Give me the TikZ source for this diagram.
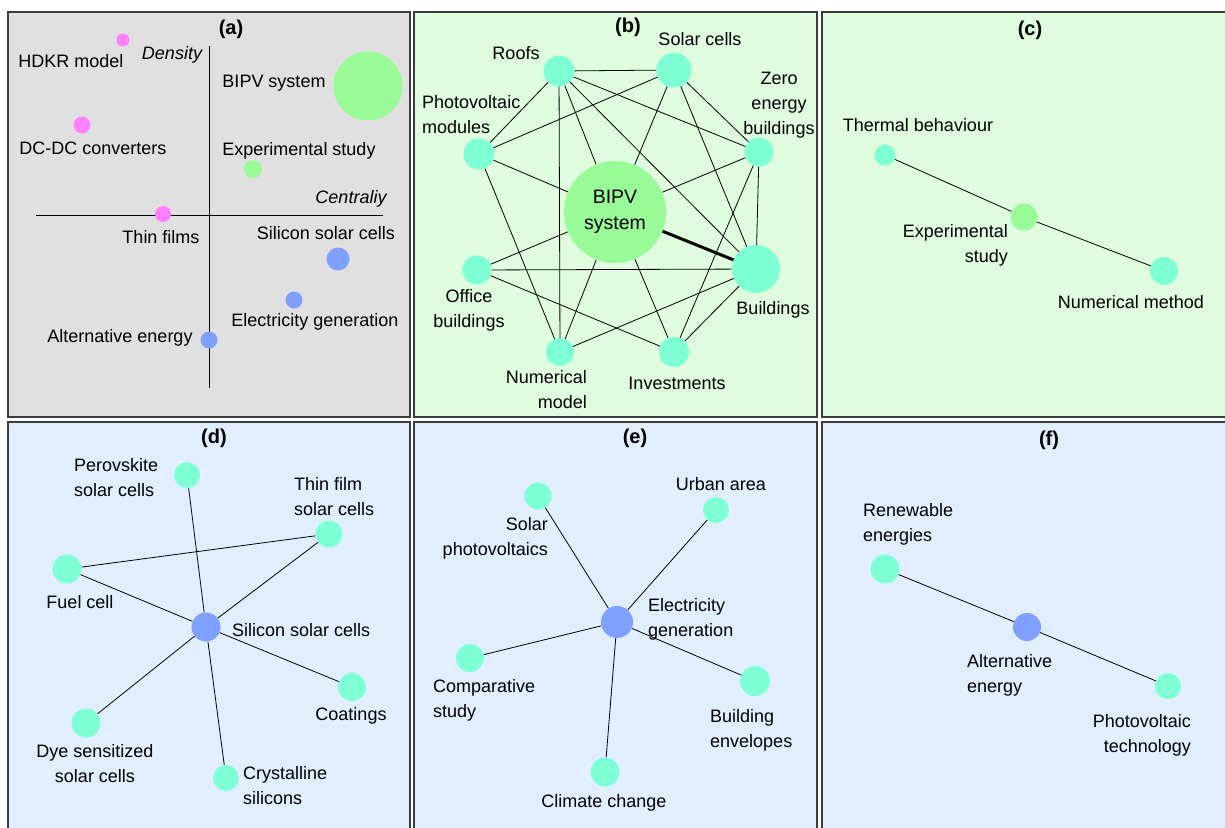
\documentclass[tikz,border=0pt]{standalone}
\usepackage{fontspec}
\setmainfont{Liberation Sans}
\usetikzlibrary{backgrounds}
\pgfdeclarelayer{edgelayer}
\pgfsetlayers{background,edgelayer,main}
\definecolor{bggray}{RGB}{224,224,224}
\definecolor{bggreen}{RGB}{223,252,223}
\definecolor{bgblue}{RGB}{224,238,255}
\definecolor{kwpink}{RGB}{255,128,255}
\definecolor{kwgreen}{RGB}{152,251,152}
\definecolor{kwaqua}{RGB}{127,255,212}
\definecolor{kwblue}{RGB}{128,160,255}
\definecolor{framecol}{RGB}{60,60,60}
\tikzset{
  panel/.style={draw=framecol, line width=1.3pt},
  kw/.style={circle, inner sep=0pt, minimum size=#1},
  pinkkw/.style={kw=#1, fill=kwpink},
  greenkw/.style={kw=#1, fill=kwgreen},
  aquakw/.style={kw=#1, fill=kwaqua},
  bluekw/.style={kw=#1, fill=kwblue},
  lbl/.style={inner sep=0pt, font=\fontsize{18}{25}\selectfont},
  ttl/.style={inner sep=0pt, font=\fontsize{20}{25}\selectfont\bfseries},
  lnk/.style={draw=black, line width=0.8pt},
  axis/.style={draw=black, line width=1pt},
}
\begin{document}
\begin{tikzpicture}[x=1pt,y=-1pt]
\useasboundingbox (0,0) rectangle (1225,827);
\begin{pgfonlayer}{background}
\fill[white] (0,0) rectangle (1225,827);
\draw[panel, fill=bggray]  (8,12) rectangle (410,417);
\draw[panel, fill=bggreen] (414,12) rectangle (817,417);
\draw[panel, fill=bggreen] (822,12) rectangle (1228,417);
\draw[panel, fill=bgblue]  (8,422) rectangle (410,830);
\draw[panel, fill=bgblue]  (414,422) rectangle (817,830);
\draw[panel, fill=bgblue]  (822,422) rectangle (1228,830);
\end{pgfonlayer}

% ---------------- (a)
\node[ttl] (ta) at (231,29) {(a)};
\coordinate (vTop) at (209,46);
\coordinate (vBot) at (209,388);
\coordinate (hL) at (36,215);
\coordinate (hR) at (383,215);
\node[lbl, font=\fontsize{18}{25}\selectfont\itshape] (tDens) at (172,55) {Density};
\node[lbl, font=\fontsize{18}{25}\selectfont\itshape] (tCent) at (351,199) {Centraliy};
\node[pinkkw=13] (aHDKR) at (123,40) {};
\node[pinkkw=17] (aDCDC) at (82,125) {};
\node[pinkkw=16] (aThin) at (163,214) {};
\node[greenkw=69] (aBIPV) at (368,86) {};
\node[greenkw=18] (aExp) at (253,169) {};
\node[bluekw=23] (aSil) at (338,259) {};
\node[bluekw=17] (aElec) at (294,300) {};
\node[bluekw=17] (aAlt) at (209,340) {};
\node[lbl] (taHDKR) at (71,61) {HDKR model};
\node[lbl] (taDCDC) at (93,148) {DC-DC converters};
\node[lbl] (taThin) at (161,237) {Thin films};
\node[lbl] (taBIPV) at (274,83) {BIPV system};
\node[lbl] (taExp) at (299,151) {Experimental study};
\node[lbl] (taSil) at (326,233) {Silicon solar cells};
\node[lbl] (taElec) at (315,322) {Electricity generation};
\node[lbl] (taAlt) at (120,338) {Alternative energy};
\begin{pgfonlayer}{edgelayer}
\draw[axis] (vTop) -- (vBot);
\draw[axis] (hL) -- (hR);
\end{pgfonlayer}

% ---------------- (b)
\node[ttl] (tb) at (628,27) {(b)};
\node[greenkw=102, lbl, font=\fontsize{19.5}{26}\selectfont, align=center] (bBIPV) at (615,212) {BIPV\\system};
\node[aquakw=31] (bRoofs) at (559,71) {};
\node[aquakw=35] (bSolar) at (674,70) {};
\node[aquakw=29] (bZero) at (759,152) {};
\node[aquakw=31] (bPV) at (479,154) {};
\node[aquakw=29] (bOffice) at (477,270) {};
\node[aquakw=28] (bNum) at (560,352) {};
\node[aquakw=30] (bInv) at (674,352) {};
\node[aquakw=48] (bBuild) at (756,269) {};
\node[lbl] (tbRoofs) at (516,53) {Roofs};
\node[lbl] (tbSolar) at (700,39) {Solar cells};
\node[lbl, align=center] (tbZero) at (779,105) {Zero\\energy\\buildings};
\node[lbl, align=left, anchor=west] (tbPV) at (422,115) {Photovoltaic\\modules};
\node[lbl, align=center] (tbOffice) at (469,310) {Office\\buildings};
\node[lbl, align=right, anchor=east] (tbNum) at (587,390) {Numerical\\model};
\node[lbl] (tbInv) at (677,383) {Investments};
\node[lbl] (tbBuild) at (773,310) {Buildings};
\begin{pgfonlayer}{edgelayer}
\draw[lnk] (bRoofs) -- (bSolar);
\draw[lnk] (bRoofs) -- (bPV);
\draw[lnk] (bRoofs) -- (bBIPV);
\draw[lnk] (bRoofs.center) -- (bNum.center);
\draw[lnk] (bRoofs) -- (bZero);
\draw[lnk] (bRoofs) -- (bBuild);
\draw[lnk] (bSolar) -- (bPV);
\draw[lnk] (bSolar) -- (bBIPV);
\draw[lnk] (bSolar) -- (bZero);
\draw[lnk] (bSolar) -- (bBuild);
\draw[lnk] (bZero) -- (bBIPV);
\draw[lnk] (bZero) -- (bBuild);
\draw[lnk] (bZero) -- (bInv);
\draw[lnk] (bPV) -- (bBIPV);
\draw[lnk] (bPV) -- (bNum);
\draw[lnk] (bOffice) -- (bBIPV);
\draw[lnk] (bOffice) -- (bBuild);
\draw[lnk] (bOffice) -- (bInv);
\draw[lnk] (bNum) -- (bBIPV);
\draw[lnk] (bNum) -- (bBuild);
\draw[lnk] (bInv) -- (bBIPV);
\draw[lnk] (bInv) -- (bBuild);
\draw[draw=black, line width=3pt] (bBIPV) -- (bBuild);
\end{pgfonlayer}

% ---------------- (c)
\node[ttl] (tc) at (1030,30) {(c)};
\node[aquakw=21] (cTherm) at (885,155) {};
\node[greenkw=27] (cExp) at (1024,217) {};
\node[aquakw=28] (cNum) at (1164,271) {};
\node[lbl] (tcTherm) at (918,125) {Thermal behaviour};
\node[lbl, align=right, anchor=east] (tcExp) at (1008,245) {Experimental\\study};
\node[lbl] (tcNum) at (1131,302) {Numerical method};
\begin{pgfonlayer}{edgelayer}
\draw[lnk] (cTherm) -- (cExp);
\draw[lnk] (cExp) -- (cNum);
\end{pgfonlayer}

% ---------------- (d)
\node[ttl] (td) at (214,438) {(d)};
\node[bluekw=29] (dSil) at (206,627) {};
\node[aquakw=26] (dPer) at (187,475) {};
\node[aquakw=27] (dThin) at (329,534) {};
\node[aquakw=29] (dFuel) at (67,569) {};
\node[aquakw=28] (dCoat) at (352,687) {};
\node[aquakw=29] (dDye) at (86,723) {};
\node[aquakw=26] (dCry) at (226,778) {};
\node[lbl, align=left, anchor=west] (tdPer) at (74,478) {Perovskite\\solar cells};
\node[lbl, align=left, anchor=west] (tdThin) at (294,497) {Thin film\\solar cells};
\node[lbl] (tdFuel) at (80,602) {Fuel cell};
\node[lbl, anchor=west] (tdSil) at (232,630) {Silicon solar cells};
\node[lbl] (tdCoat) at (351,716) {Coatings};
\node[lbl, align=center] (tdDye) at (95,764) {Dye sensitized\\solar cells};
\node[lbl, align=left, anchor=west] (tdCry) at (243,786) {Crystalline\\silicons};
\begin{pgfonlayer}{edgelayer}
\draw[lnk] (dSil) -- (dPer);
\draw[lnk] (dSil) -- (dThin);
\draw[lnk] (dSil) -- (dFuel);
\draw[lnk] (dSil) -- (dCoat);
\draw[lnk] (dSil) -- (dDye);
\draw[lnk] (dSil) -- (dCry);
\draw[lnk] (dFuel) -- (dThin);
\end{pgfonlayer}

% ---------------- (e)
\node[ttl] (te) at (635,438) {(e)};
\node[bluekw=32] (eElec) at (617,622) {};
\node[aquakw=27] (eSolar) at (538,496) {};
\node[aquakw=26] (eUrban) at (716,510) {};
\node[aquakw=28] (eComp) at (470,658) {};
\node[aquakw=30] (eBuild) at (755,681) {};
\node[aquakw=29] (eClim) at (605,772) {};
\node[lbl, align=right, anchor=east] (teSolar) at (548,538) {Solar\\photovoltaics};
\node[lbl] (teUrban) at (721,484) {Urban area};
\node[lbl, align=left, anchor=west] (teElec) at (648,619) {Electricity\\generation};
\node[lbl, align=left, anchor=west] (teComp) at (433,700) {Comparative\\study};
\node[lbl, align=left, anchor=west] (teBuild) at (710,730) {Building\\envelopes};
\node[lbl] (teClim) at (604,803) {Climate change};
\begin{pgfonlayer}{edgelayer}
\draw[lnk] (eElec) -- (eSolar);
\draw[lnk] (eElec) -- (eUrban);
\draw[lnk] (eElec) -- (eComp);
\draw[lnk] (eElec) -- (eBuild);
\draw[lnk] (eElec) -- (eClim);
\end{pgfonlayer}

% ---------------- (f)
\node[ttl] (tf) at (1049,440) {(f)};
\node[bluekw=28] (fAlt) at (1027,627) {};
\node[aquakw=29] (fRen) at (885,569) {};
\node[aquakw=26] (fPV) at (1168,686) {};
\node[lbl, align=left, anchor=west] (tfRen) at (863,524) {Renewable\\energies};
\node[lbl, align=left, anchor=west] (tfAlt) at (967,675) {Alternative\\energy};
\node[lbl, align=right, anchor=east] (tfPV) at (1191,735) {Photovoltaic\\technology};
\begin{pgfonlayer}{edgelayer}
\draw[lnk] (fRen) -- (fAlt);
\draw[lnk] (fAlt) -- (fPV);
\end{pgfonlayer}
\end{tikzpicture}
\end{document}
